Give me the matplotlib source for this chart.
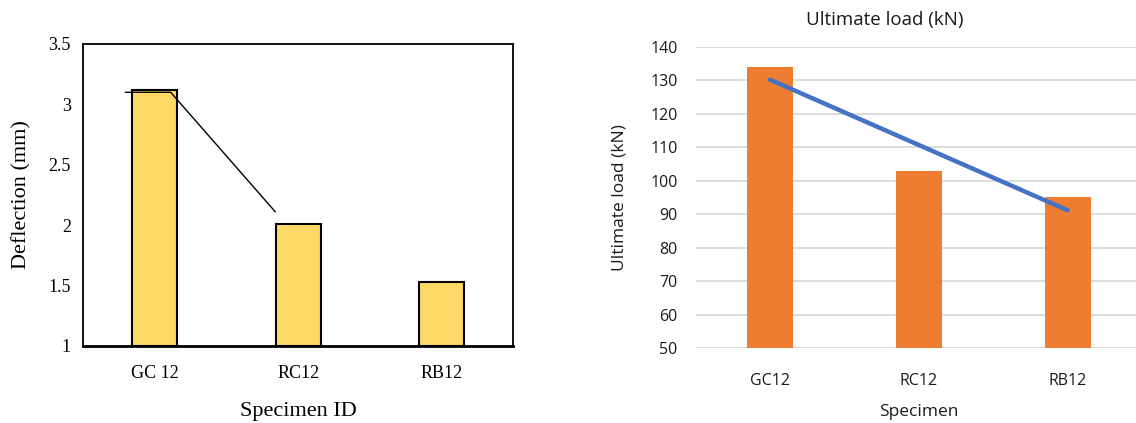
import numpy as np
import matplotlib
matplotlib.use("Agg")
import matplotlib.pyplot as plt

# ---- data ----
defl_labels = ["GC 12", "RC12", "RB12"]
defl_values = [3.12, 2.01, 1.53]
defl_ticks = [1, 1.5, 2, 2.5, 3, 3.5]
defl_tick_labels = ["1", "1.5", "2", "2.5", "3", "3.5"]
# hand-drawn guide line on the deflection chart (category units, mm)
defl_line_x = [-0.205, 0.11, 0.84]
defl_line_y = [3.10, 3.10, 2.11]

load_labels = ["GC12", "RC12", "RB12"]
load_values = [134, 103, 95]
load_ticks = [50, 60, 70, 80, 90, 100, 110, 120, 130, 140]

W, H = 1136, 423
fig = plt.figure(figsize=(W / 100, H / 100), dpi=100)

def rect(x0, y0, x1, y1):
    return [x0 / W, 1 - y1 / H, (x1 - x0) / W, (y1 - y0) / H]

# ---------- left chart ----------
serif = ["Liberation Serif", "DejaVu Serif"]
ax1 = fig.add_axes(rect(83.3, 44, 513, 345.7))
x1 = np.arange(len(defl_values))
ax1.bar(x1, np.array(defl_values) - 1, bottom=1, width=0.315,
        color="#FFD966", edgecolor="black", linewidth=1.5, zorder=2)
ax1.plot(defl_line_x, defl_line_y, color="black", linewidth=1.0, zorder=3)
ax1.set_xlim(-0.5, 2.5)
ax1.set_ylim(1, 3.5)
ax1.set_yticks(defl_ticks)
ax1.set_yticklabels(defl_tick_labels, family=serif, fontsize=13)
ax1.set_xticks(x1)
ax1.set_xticklabels(defl_labels, family=serif, fontsize=13)
ax1.tick_params(axis="both", length=0)
ax1.tick_params(axis="y", pad=9)
ax1.tick_params(axis="x", pad=14)
for s in ax1.spines.values():
    s.set_linewidth(1.3)
    s.set_color("black")
ax1.spines["bottom"].set_linewidth(2.0)
ax1.set_ylabel("Deflection (mm)", family=serif, fontsize=16, labelpad=12)
ax1.set_xlabel("Specimen ID", family=serif, fontsize=16, labelpad=14)

# ---------- right chart ----------
sans = ["Open Sans", "DejaVu Sans"]
ax2 = fig.add_axes(rect(695.5, 46.7, 1142, 348.2))
x2 = np.arange(len(load_values))
ax2.bar(x2, np.array(load_values) - 50, bottom=50, width=0.31,
        color="#ED7D31", zorder=2)
coef = np.polyfit(x2, load_values, 1)
ax2.plot([x2[0], x2[-1]], np.polyval(coef, [x2[0], x2[-1]]),
         color="#4472C4", linewidth=3.2, solid_capstyle="round", zorder=3)
ax2.set_xlim(-0.5, 2.5)
ax2.set_ylim(50, 140)
ax2.set_yticks(load_ticks)
ax2.set_yticklabels([str(t) for t in load_ticks], family=sans, fontsize=11.5,
                    color="#1a1a1a")
ax2.set_xticks(x2)
ax2.set_xticklabels(load_labels, family=sans, fontsize=11.5, color="#1a1a1a")
ax2.tick_params(axis="both", length=0)
ax2.tick_params(axis="y", pad=13)
ax2.tick_params(axis="x", pad=18)
for s in ax2.spines.values():
    s.set_visible(False)
ax2.grid(axis="y", color="#D9D9D9", linewidth=1.3, zorder=0)
ax2.set_axisbelow(True)
ax2.set_ylabel("Ultimate load (kN)", family=sans, fontsize=12.5, labelpad=16,
               color="#1a1a1a")
ax2.set_xlabel("Specimen", family=sans, fontsize=12.5, labelpad=11,
               color="#1a1a1a")
fig.text(885 / W, 1 - 20 / H, "Ultimate load (kN)", family=sans, fontsize=13.5,
         color="#1a1a1a", ha="center", va="center")

fig.savefig("out.png", dpi=100)
